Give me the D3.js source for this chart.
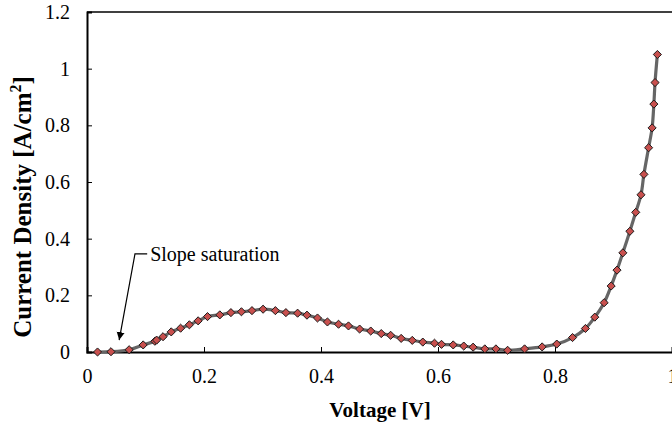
<!DOCTYPE html>
<html><head><meta charset="utf-8">
<script src="https://cdn.jsdelivr.net/npm/d3@7"></script>
<style>
html,body{margin:0;padding:0;background:#fff;}
svg{display:block;}
text{font-family:"Liberation Serif","Times New Roman",serif;fill:#000;}
</style></head>
<body>
<svg id="chart" width="672" height="428"></svg>
<script>
const voltage = [0.018,0.041,0.072,0.096,0.116,0.119,0.130,0.144,0.160,0.175,0.190,0.206,0.227,0.246,0.264,0.282,0.301,0.322,0.340,0.360,0.376,0.394,0.411,0.430,0.447,0.466,0.485,0.503,0.519,0.537,0.556,0.574,0.594,0.606,0.626,0.644,0.660,0.680,0.699,0.719,0.748,0.778,0.803,0.830,0.852,0.868,0.884,0.896,0.906,0.916,0.928,0.938,0.947,0.952,0.960,0.966,0.969,0.971,0.975];
const currentDensity = [0.000,0.001,0.008,0.025,0.038,0.042,0.054,0.071,0.084,0.096,0.110,0.125,0.131,0.139,0.142,0.146,0.151,0.146,0.139,0.137,0.130,0.120,0.106,0.098,0.092,0.081,0.074,0.065,0.059,0.048,0.041,0.035,0.031,0.027,0.025,0.021,0.017,0.011,0.011,0.006,0.011,0.018,0.028,0.051,0.083,0.123,0.174,0.233,0.289,0.350,0.426,0.493,0.555,0.627,0.721,0.791,0.875,0.951,1.050];
const xTicks = [0, 0.2, 0.4, 0.6, 0.8, 1];
const yTicks = [0, 0.2, 0.4, 0.6, 0.8, 1, 1.2];
const xTitle = "Voltage [V]";
const yTitle = "Current Density [A/cm";
const annotationText = "Slope saturation";
const annotationTextPos = [0.108, 0.346];
const annotationElbow = [0.082, 0.346];
const annotationTip = [0.055, 0.042];

const svg = d3.select("#chart");
const mLeft = 87, mRight = 672, mTop = 12, mBottom = 352;
const x = d3.scaleLinear().domain([0, 1]).range([mLeft, mRight]);
const y = d3.scaleLinear().domain([0, 1.2]).range([mBottom, mTop]);
const fmt = d => String(d);
const serif = '"Liberation Serif","Times New Roman",serif';

// frame top line
svg.append("line").attr("x1", mLeft).attr("x2", mRight).attr("y1", mTop).attr("y2", mTop)
  .attr("stroke", "#000").attr("stroke-width", 1.5);

// x axis
const gx = svg.append("g").attr("transform", `translate(0,${mBottom})`)
  .call(d3.axisBottom(x).tickValues(xTicks).tickSize(-5).tickPadding(14).tickFormat(fmt));
gx.attr("font-family", null).attr("font-size", null);
gx.select(".domain").attr("stroke", "#000").attr("stroke-width", 2);
gx.selectAll(".tick line").attr("stroke", "#000").attr("stroke-width", 1);
gx.selectAll(".tick text").style("font-size", "20px").style("font-family", serif).attr("dy", "0.71em").attr("y", 17);

// y axis
const gy = svg.append("g").attr("transform", `translate(${mLeft},0)`)
  .call(d3.axisLeft(y).tickValues(yTicks).tickSize(-5).tickPadding(17).tickFormat(fmt));
gy.attr("font-family", null).attr("font-size", null);
gy.select(".domain").attr("stroke", "#000").attr("stroke-width", 2);
gy.selectAll(".tick line").attr("stroke", "#000").attr("stroke-width", 1);
gy.selectAll(".tick text").style("font-size", "20px").style("font-family", serif);

// titles
svg.append("text").attr("x", 380).attr("y", 417).attr("text-anchor", "middle")
  .style("font-size", "21px").attr("font-weight", "bold").text(xTitle);
const yt = svg.append("text").attr("transform", "translate(31,207) rotate(-90)")
  .attr("text-anchor", "middle").style("font-size", "25px").attr("font-weight", "bold");
yt.append("tspan").text(yTitle);
yt.append("tspan").style("font-size", "16px").attr("dy", "-0.6em").text("2");
yt.append("tspan").attr("dy", "0.4em").text("]");

// data
const data = voltage.map((v, i) => ({v, j: currentDensity[i]}));
const line = d3.line().x(d => x(d.v)).y(d => y(d.j)).curve(d3.curveCatmullRom.alpha(0.5));
svg.append("path").datum(data).attr("d", line).attr("fill", "none")
  .attr("stroke", "#666").attr("stroke-width", 3.2);
const sym = d3.symbol().type(d3.symbolDiamond2).size(42);
svg.selectAll("path.pt").data(data).join("path").attr("class", "pt")
  .attr("transform", d => `translate(${x(d.v)},${y(d.j)})`)
  .attr("d", sym).attr("fill", "#c8504e").attr("stroke", "#1a1a1a").attr("stroke-width", 1);

// annotation
svg.append("defs").append("marker").attr("id", "arr").attr("viewBox", "0 0 10 10")
  .attr("refX", 10).attr("refY", 5).attr("markerWidth", 8).attr("markerHeight", 9)
  .attr("markerUnits", "userSpaceOnUse").attr("orient", "auto")
  .append("path").attr("d", "M0,0L10,5L0,10Z").attr("fill", "#000");
svg.append("polyline")
  .attr("points", [[x(annotationTextPos[0]) - 3, y(annotationElbow[1])], [x(annotationElbow[0]), y(annotationElbow[1])], [x(annotationTip[0]), y(annotationTip[1])]].map(p => p.join(",")).join(" "))
  .attr("fill", "none").attr("stroke", "#000").attr("stroke-width", 1.2)
  .attr("marker-end", "url(#arr)");
svg.append("text").attr("x", x(annotationTextPos[0])).attr("y", y(annotationTextPos[1]))
  .attr("dy", "0.35em").style("font-size", "20px").text(annotationText);
</script>
</body></html>
